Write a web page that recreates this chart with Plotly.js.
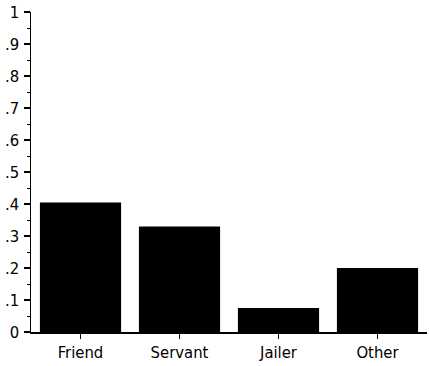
<!DOCTYPE html>
<html>
<head>
<meta charset="utf-8">
<script src="https://cdn.plot.ly/plotly-3.0.1.min.js"></script>
<style>
  html, body { margin: 0; padding: 0; background: #fff; }
  #chart { width: 429px; height: 366px; }
</style>
</head>
<body>
<div id="chart"></div>
<script>
// Share of each relationship type
const categories = ['Friend', 'Servant', 'Jailer', 'Other'];
const shares = [0.405, 0.33, 0.075, 0.20];

// Y-axis ticks written without the leading zero
const yTickVals = [0, 0.1, 0.2, 0.3, 0.4, 0.5, 0.6, 0.7, 0.8, 0.9, 1];
const yTickText = ['0', '.1', '.2', '.3', '.4', '.5', '.6', '.7', '.8', '.9', '1'];
const yMinorVals = [0.05, 0.15, 0.25, 0.35, 0.45, 0.55, 0.65, 0.75, 0.85, 0.95];

const fontFamily = '"DejaVu Sans Condensed", "Liberation Sans Narrow", sans-serif';
const xFont = { family: fontFamily, size: 16.5, color: '#000' };
const yFont = { family: fontFamily, size: 16.5, color: '#000' };

Plotly.newPlot('chart', [{
  type: 'bar',
  x: categories,
  y: shares,
  marker: { color: '#000', line: { width: 0 } },
  hoverinfo: 'x+y'
}], {
  width: 429,
  height: 366,
  margin: { l: 31, r: 2, t: 12, b: 34 },
  paper_bgcolor: '#fff',
  plot_bgcolor: '#fff',
  bargap: 0.18,
  showlegend: false,
  font: xFont,
  xaxis: {
    type: 'category',
    range: [-0.5, 3.5],
    showline: true,
    linecolor: '#000',
    linewidth: 1.5,
    ticks: 'outside',
    ticklen: 5,
    tickwidth: 1.5,
    tickcolor: '#000',
    showgrid: false,
    zeroline: false,
    tickfont: xFont
  },
  yaxis: {
    range: [0, 1],
    tickmode: 'array',
    tickvals: yTickVals,
    ticktext: yTickText,
    showline: true,
    linecolor: '#000',
    linewidth: 1.5,
    ticks: 'outside',
    ticklen: 6,
    tickwidth: 1.5,
    tickcolor: '#000',
    ticklabelstandoff: 1,
    minor: { tickmode: 'array', tickvals: yMinorVals, ticks: 'outside', ticklen: 3, tickwidth: 1, tickcolor: '#000', showgrid: false },
    showgrid: false,
    zeroline: false,
    tickfont: yFont
  }
}, { displayModeBar: false, staticPlot: true });
</script>
</body>
</html>
